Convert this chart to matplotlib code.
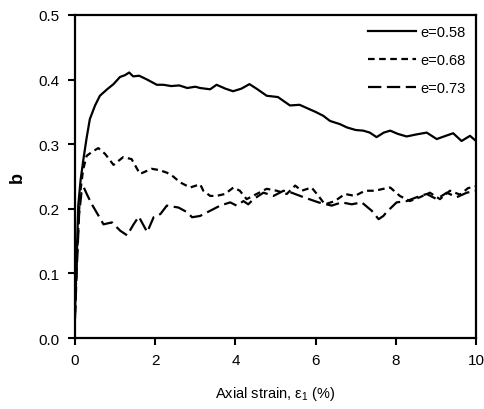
import matplotlib
matplotlib.use("Agg")
import matplotlib.pyplot as plt

plt.rcParams['font.family'] = ['Liberation Sans', 'DejaVu Sans']

# e = 0.58 (solid)
x058 = [0, 0.04, 0.08, 0.14, 0.21, 0.29, 0.37, 0.5, 0.62, 0.8, 0.96, 1.12, 1.25, 1.35, 1.45, 1.6, 1.8,
        2.04, 2.2, 2.4, 2.6, 2.8, 3.0, 3.12, 3.37, 3.53, 3.75, 3.94, 4.15, 4.35, 4.55, 4.78, 5.06, 5.36,
        5.6, 5.78, 6.0, 6.19, 6.36, 6.61, 6.78, 7.0, 7.19, 7.35, 7.52, 7.7, 7.86, 8.05, 8.27, 8.5, 8.77,
        9.02, 9.2, 9.43, 9.64, 9.85, 10.0]
y058 = [0.04, 0.12, 0.205, 0.245, 0.277, 0.31, 0.339, 0.36, 0.375, 0.385, 0.393, 0.404, 0.407, 0.411,
        0.405, 0.406, 0.400, 0.392, 0.392, 0.39, 0.391, 0.387, 0.389, 0.387, 0.385, 0.392, 0.386, 0.382,
        0.386, 0.393, 0.385, 0.375, 0.373, 0.360, 0.361, 0.356, 0.350, 0.344, 0.336, 0.331, 0.326, 0.322,
        0.321, 0.318, 0.311, 0.318, 0.321, 0.316, 0.312, 0.315, 0.318, 0.308, 0.312, 0.317, 0.305, 0.313,
        0.305]

# e = 0.68 (short dashes)
x068 = [0, 0.05, 0.12, 0.2, 0.29, 0.42, 0.58, 0.75, 0.96, 1.2, 1.41, 1.62, 1.91, 2.1, 2.29, 2.45, 2.62,
        2.87, 3.12, 3.2, 3.37, 3.53, 3.74, 3.95, 4.11, 4.28, 4.53, 4.78, 5.03, 5.28, 5.49, 5.65, 5.9, 6.07,
        6.23, 6.48, 6.73, 6.98, 7.23, 7.48, 7.69, 7.86, 8.1, 8.35, 8.6, 8.85, 9.1, 9.35, 9.6, 9.8, 10.0]
y068 = [0.04, 0.13, 0.22, 0.26, 0.282, 0.288, 0.294, 0.285, 0.268, 0.28, 0.277, 0.254, 0.262, 0.26,
        0.256, 0.25, 0.241, 0.233, 0.238, 0.228, 0.22, 0.22, 0.223, 0.233, 0.228, 0.215, 0.223, 0.231,
        0.228, 0.223, 0.236, 0.228, 0.233, 0.22, 0.207, 0.212, 0.223, 0.22, 0.228, 0.228, 0.231, 0.233,
        0.22, 0.212, 0.218, 0.225, 0.215, 0.228, 0.222, 0.232, 0.235]

# e = 0.73 (long dashes)
x073 = [0, 0.04, 0.1, 0.16, 0.22, 0.3, 0.42, 0.59, 0.71, 0.92, 1.13, 1.30, 1.46, 1.59, 1.8, 1.96, 2.13,
        2.29, 2.58, 2.79, 2.92, 3.12, 3.37, 3.62, 3.87, 4.03, 4.2, 4.32, 4.45, 4.7, 4.95, 5.2, 5.4, 5.7,
        6.07, 6.4, 6.65, 6.9, 7.15, 7.4, 7.57, 7.69, 7.77, 8.02, 8.27, 8.52, 8.77, 9.02, 9.27, 9.52, 9.77,
        10.0]
y073 = [0.03, 0.1, 0.19, 0.225, 0.233, 0.222, 0.207, 0.189, 0.176, 0.179, 0.166, 0.159, 0.176, 0.188,
        0.164, 0.187, 0.192, 0.205, 0.202, 0.195, 0.187, 0.189, 0.197, 0.205, 0.21, 0.205, 0.212, 0.207,
        0.215, 0.225, 0.22, 0.228, 0.225, 0.218, 0.21, 0.205, 0.21, 0.207, 0.21, 0.197, 0.184, 0.189,
        0.195, 0.21, 0.212, 0.218, 0.223, 0.215, 0.225, 0.218, 0.225, 0.228]

labels = ['e=0.58', 'e=0.68', 'e=0.73']
xticks = [0, 2, 4, 6, 8, 10]
yticks = [0.0, 0.1, 0.2, 0.3, 0.4, 0.5]

fig = plt.figure(figsize=(4.84, 4.10), dpi=100)
ax = fig.add_axes([0.155, 0.173, 0.8285, 0.788])

ax.plot(x058, y058, color='black', lw=1.6, linestyle='-', label=labels[0])
ax.plot(x068, y068, color='black', lw=1.6, linestyle=(0, (3, 2)), label=labels[1])
ax.plot(x073, y073, color='black', lw=1.6, linestyle=(0, (6, 2.5)), label=labels[2])

ax.set_xlim(0, 10)
ax.set_ylim(0, 0.5)
ax.set_xticks(xticks)
ax.set_xticklabels([str(t) for t in xticks])
ax.set_yticks(yticks)
ax.set_yticklabels([f"{t:.1f}" for t in yticks])
ax.tick_params(direction='out', length=5, width=1.5, labelsize=11, pad=6)
for s in ax.spines.values():
    s.set_linewidth(1.6)

ax.set_xlabel(r'Axial strain, $\mathregular{\varepsilon_1}$ (%)', fontsize=10.5, labelpad=12)
ax.set_ylabel('b', fontsize=13, fontweight='bold', labelpad=9)

leg = ax.legend(loc='upper right', frameon=False, fontsize=10.5, handlelength=3.3,
                labelspacing=0.95, handletextpad=0.3, borderaxespad=0.3)

fig.savefig('out.png', dpi=100)
